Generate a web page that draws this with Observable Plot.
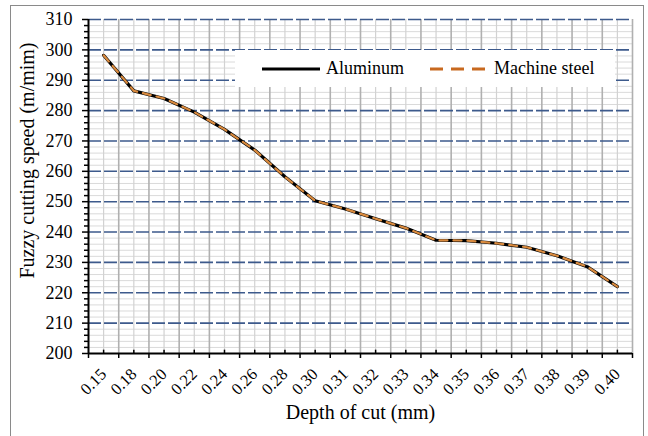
<!DOCTYPE html>
<html><head><meta charset="utf-8">
<script src="https://cdn.jsdelivr.net/npm/d3@7"></script>
<script src="https://cdn.jsdelivr.net/npm/@observablehq/plot@0.6"></script>
<style>
body{margin:0;background:#fff;font-family:"Liberation Serif",serif}
#wrap{position:relative;width:648px;height:436px;overflow:hidden}
#frame{position:absolute;left:10px;top:5px;width:634px;height:445px;border:1.5px solid #8a8a8a;box-sizing:border-box;pointer-events:none}
#chart{position:absolute;left:0;top:0}
#legend{position:absolute;left:235px;top:50px;width:380px;height:37px;background:#fff;font-size:18px;color:#000}
#legend .item{position:absolute;top:0;height:37px;display:flex;align-items:center}
#legend svg{margin-right:6px}
</style>
</head><body>
<div id="wrap"><div id="chart"></div><div id="legend"></div><div id="frame"></div></div>
<script>
const depthLabels = ["0.15","0.18","0.20","0.22","0.24","0.26","0.28","0.30","0.31","0.32","0.33","0.34","0.35","0.36","0.37","0.38","0.39","0.40"];
const aluminum     = [298.2,286.5,284.0,279.5,273.8,267.0,258.2,250.3,247.6,244.4,241.3,237.3,237.2,236.3,235.0,232.2,228.6,222.0];
const machineSteel = [298.2,286.5,284.0,279.5,273.8,267.0,258.2,250.3,247.6,244.4,241.3,237.3,237.2,236.3,235.0,232.2,228.6,222.0];
const yMajor = [200,210,220,230,240,250,260,270,280,290,300,310];
const seriesNames = ["Aluminum","Machine steel"];
const seriesColors = ["#000000","#d98a3e"];

const idx = depthLabels.map((d,i)=>i);
const bounds = d3.range(-0.5, depthLabels.length, 1);
const yMinor = d3.range(200, 311, 2).filter(v => v % 10 !== 0);
const rows = depthLabels.map((d,i)=>({i, al: aluminum[i], ms: machineSteel[i]}));

const plot = Plot.plot({
  width:648, height:436,
  marginLeft:88, marginRight:16, marginTop:19, marginBottom:83,
  style:{fontFamily:"'Liberation Serif', serif", fontSize:"16px", background:"transparent", color:"#000"},
  x:{type:"linear", domain:[-0.5, depthLabels.length-0.5], axis:null},
  y:{domain:[200,310], axis:null},
  marks:[
    Plot.ruleY(yMinor, {stroke:"#dadada", strokeWidth:1}),
    Plot.ruleX(idx, {stroke:"#d2d2d2", strokeWidth:1.2}),
    Plot.ruleX(bounds.slice(1), {stroke:"#b0b0b0", strokeWidth:1.6}),
    Plot.ruleY(yMajor.filter(v=>v>200), {stroke:"#3d5a8c", strokeWidth:1.6, strokeDasharray:"13,3"}),
    Plot.axisY({ticks:yMinor, tickSize:4, tickFormat:()=>"", strokeWidth:1.5, label:null}),
    Plot.axisY({ticks:yMajor, tickSize:6, tickPadding:10, fontSize:18, strokeWidth:1.5, label:null}),
    Plot.axisX({ticks:bounds, tickSize:5, tickFormat:()=>"", strokeWidth:1.5, label:null}),
    Plot.ruleX(idx, {y1:200, y2:201.1, stroke:"#000", strokeWidth:1.5}),
    Plot.axisX({ticks:idx, tickSize:0, tickPadding:18, tickRotate:-45, fontSize:16.5, tickFormat:i=>depthLabels[i], label:null}),
    Plot.ruleX([-0.5], {stroke:"#000", strokeWidth:2}),
    Plot.ruleY([200], {stroke:"#000", strokeWidth:2}),
    Plot.line(rows, {x:"i", y:"al", stroke:seriesColors[0], strokeWidth:3.2}),
    Plot.line(rows, {x:"i", y:"ms", stroke:seriesColors[1], strokeWidth:2.2, strokeDasharray:"8,6"}),
    Plot.text(["Fuzzy cutting speed (m/mim)"], {frameAnchor:"left", textAnchor:"middle", dx:-61, dy:-26, rotate:-90, fontSize:20, text:d=>d}),
    Plot.text(["Depth of cut (mm)"], {frameAnchor:"bottom", dy:65, fontSize:20, text:d=>d})
  ]
});
document.getElementById("chart").appendChild(plot);

const legend = document.getElementById("legend");
const lx = [27, 195];
seriesNames.forEach((name, k) => {
  const item = document.createElement("div");
  item.className = "item";
  item.style.left = lx[k] + "px";
  const dash = k === 1 ? ' stroke-dasharray="13,8"' : '';
  item.innerHTML = `<svg width="58" height="10"><line x1="0" x2="58" y1="5" y2="5" stroke="${k===1?'#c8691f':seriesColors[k]}" stroke-width="3.2"${dash}/></svg><span>${name}</span>`;
  legend.appendChild(item);
});
</script>
</body></html>
